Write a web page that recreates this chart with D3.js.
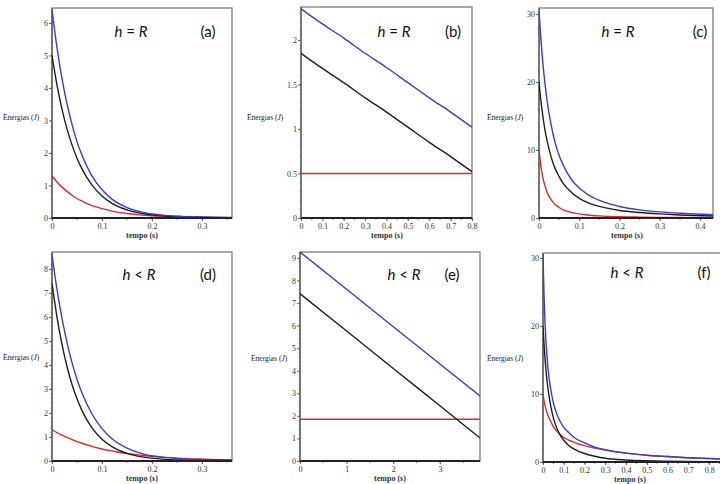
<!DOCTYPE html>
<html><head><meta charset="utf-8">
<script src="https://cdn.jsdelivr.net/npm/d3@7"></script>
<style>body{margin:0;background:#fff}svg{display:block}</style>
</head><body>
<svg id="chart" width="720" height="484"></svg>
<script>
// ---------- data ----------
const panelIds = ["a", "b", "c", "d", "e", "f"];
const titles = ["h = R", "h = R", "h = R", "h < R", "h < R", "h < R"];

// (a) h = R
const tA     = [0, 0.01, 0.02, 0.03, 0.04, 0.05, 0.06, 0.08, 0.10, 0.12, 0.15, 0.18, 0.22, 0.26, 0.30, 0.36];
const blueA  = [6.4, 5.24, 4.29, 3.51, 2.88, 2.35, 1.93, 1.29, 0.87, 0.58, 0.32, 0.18, 0.09, 0.05, 0.03, 0.02];
const blackA = [5.0, 4.09, 3.35, 2.74, 2.25, 1.84, 1.51, 1.01, 0.68, 0.45, 0.25, 0.14, 0.07, 0.04, 0.02, 0.01];
const redA   = [1.3, 1.11, 0.95, 0.82, 0.70, 0.60, 0.52, 0.38, 0.29, 0.21, 0.14, 0.09, 0.05, 0.03, 0.02, 0.01];

// (b) h = R
const tB     = [0, 0.1, 0.2, 0.3, 0.4, 0.5, 0.6, 0.7, 0.8];
const blueB  = [2.35, 2.18, 2.02, 1.85, 1.69, 1.52, 1.35, 1.19, 1.02];
const blackB = [1.85, 1.68, 1.52, 1.35, 1.19, 1.02, 0.85, 0.69, 0.52];
const redB   = [0.5, 0.5, 0.5, 0.5, 0.5, 0.5, 0.5, 0.5, 0.5];

// (c) h = R
const tC     = [0, 0.005, 0.01, 0.015, 0.02, 0.03, 0.04, 0.05, 0.06, 0.08, 0.10, 0.12, 0.15, 0.20, 0.25, 0.30, 0.35, 0.432];
const blueC  = [30.5, 26.1, 22.5, 19.7, 17.3, 13.7, 11.1, 9.2, 7.8, 5.7, 4.4, 3.5, 2.6, 1.7, 1.2, 0.9, 0.7, 0.5];
const blackC = [20.0, 17.1, 14.8, 12.9, 11.4, 9.0, 7.3, 6.1, 5.1, 3.8, 2.9, 2.3, 1.7, 1.1, 0.8, 0.6, 0.45, 0.3];
const redC   = [10.0, 7.5, 5.8, 4.7, 3.8, 2.7, 2.0, 1.55, 1.2, 0.83, 0.6, 0.45, 0.31, 0.19, 0.13, 0.09, 0.07, 0.05];

// (d) h < R
const tD     = [0, 0.01, 0.02, 0.03, 0.04, 0.05, 0.06, 0.08, 0.10, 0.12, 0.15, 0.18, 0.22, 0.26, 0.30, 0.36];
const blueD  = [8.6, 7.15, 5.94, 4.94, 4.10, 3.41, 2.83, 1.96, 1.35, 0.93, 0.54, 0.31, 0.16, 0.09, 0.06, 0.04];
const blackD = [7.4, 6.00, 4.86, 3.94, 3.19, 2.59, 2.10, 1.38, 0.91, 0.60, 0.32, 0.17, 0.08, 0.04, 0.02, 0.01];
const redD   = [1.3, 1.18, 1.08, 0.98, 0.89, 0.81, 0.74, 0.61, 0.50, 0.42, 0.31, 0.24, 0.16, 0.11, 0.08, 0.04];

// (e) h < R
const tE     = [0, 1, 2, 3, 3.86];
const blueE  = [9.26, 7.61, 5.95, 4.30, 2.88];
const blackE = [7.41, 5.76, 4.10, 2.45, 1.02];
const redE   = [1.85, 1.85, 1.85, 1.85, 1.85];

// (f) h < R
const tF     = [0, 0.005, 0.01, 0.02, 0.03, 0.04, 0.05, 0.06, 0.08, 0.10, 0.125, 0.15, 0.20, 0.25, 0.30, 0.40, 0.50, 0.60, 0.70, 0.855];
const blueF  = [30.5, 24.4, 20.3, 15.2, 12.2, 10.2, 8.7, 7.6, 6.1, 5.1, 4.3, 3.6, 2.8, 2.2, 1.8, 1.3, 1.0, 0.8, 0.62, 0.45];
const blackF = [20.0, 17.3, 15.1, 11.8, 9.5, 7.8, 6.5, 5.5, 4.1, 3.2, 2.4, 1.9, 1.25, 0.85, 0.55, 0.3, 0.18, 0.12, 0.08, 0.05];
const redF   = [10.0, 9.0, 8.3, 7.2, 6.4, 5.8, 5.2, 4.8, 4.1, 3.6, 3.2, 2.9, 2.4, 2.05, 1.75, 1.3, 1.0, 0.8, 0.6, 0.43];

// tick labels
const xTicksA = [0, 0.1, 0.2, 0.3];
const xTicksB = [0, 0.1, 0.2, 0.3, 0.4, 0.5, 0.6, 0.7, 0.8];
const xTicksC = [0, 0.1, 0.2, 0.3, 0.4];
const xTicksD = [0, 0.1, 0.2, 0.3];
const xTicksE = [0, 1, 2, 3];
const xTicksF = [0, 0.1, 0.2, 0.3, 0.4, 0.5, 0.6, 0.7, 0.8];
const yTicksA = [0, 1, 2, 3, 4, 5, 6];
const yTicksB = [0, 0.5, 1, 1.5, 2];
const yTicksC = [0, 10, 20, 30];
const yTicksD = [0, 1, 2, 3, 4, 5, 6, 7, 8];
const yTicksE = [0, 1, 2, 3, 4, 5, 6, 7, 8, 9];
const yTicksF = [0, 10, 20, 30];

// ---------- layout ----------
const layout = {
  a: {l: 52,  r: 232, t: 8,   b: 218, xMax: 0.36,  yMax: 6.46, xMinor: 0.05, yMinor: 0.2, lblY: 117, lblX: 3,   tx: 131, ax: 208, ty: 37,  xl: 142},
  b: {l: 301, r: 472, t: 7,   b: 218, xMax: 0.8,   yMax: 2.37, xMinor: 0.05, yMinor: 0.1, lblY: 117, lblX: 247, tx: 394, ax: 453, ty: 37,  xl: 387},
  c: {l: 539, r: 713, t: 8,   b: 218, xMax: 0.432, yMax: 30.9, xMinor: 0.05, yMinor: 2,   lblY: 117, lblX: 487, tx: 618, ax: 700, ty: 37,  xl: 627},
  d: {l: 52,  r: 232, t: 252, b: 461, xMax: 0.36,  yMax: 8.71, xMinor: 0.05, yMinor: 0.2, lblY: 357, lblX: 3,   tx: 139, ax: 208, ty: 280, xl: 142},
  e: {l: 300, r: 480, t: 252, b: 461, xMax: 3.86,  yMax: 9.26, xMinor: 0.5,  yMinor: 0.2, lblY: 358, lblX: 251, tx: 404, ax: 452, ty: 280, xl: 390},
  f: {l: 543, r: 722, t: 253, b: 462, xMax: 0.862, yMax: 30.74, xMinor: 0.05, yMinor: 2,  lblY: 358, lblX: 487, tx: 627, ax: 704, ty: 278, xl: 630}
};

const data = {
  a: {t: tA, blue: blueA, black: blackA, red: redA, xt: xTicksA, yt: yTicksA},
  b: {t: tB, blue: blueB, black: blackB, red: redB, xt: xTicksB, yt: yTicksB},
  c: {t: tC, blue: blueC, black: blackC, red: redC, xt: xTicksC, yt: yTicksC},
  d: {t: tD, blue: blueD, black: blackD, red: redD, xt: xTicksD, yt: yTicksD},
  e: {t: tE, blue: blueE, black: blackE, red: redE, xt: xTicksE, yt: yTicksE},
  f: {t: tF, blue: blueF, black: blackF, red: redF, xt: xTicksF, yt: yTicksF}
};

const colors = {blue: "#3a3ad0", black: "#1e1e1e", red: "#e02828"};
const serif = "'Liberation Serif', 'DejaVu Serif', serif";
const sans = "Lato, 'Open Sans', sans-serif";

const svg = d3.select("#chart");

panelIds.forEach((id, i) => {
  const L = layout[id], D = data[id];
  const x = d3.scaleLinear().domain([0, L.xMax]).range([L.l, L.r]);
  const y = d3.scaleLinear().domain([0, L.yMax]).range([L.b, L.t]);
  const g = svg.append("g");

  g.append("clipPath").attr("id", "clip-" + id)
    .append("rect").attr("x", L.l).attr("y", L.t - 1).attr("width", L.r - L.l).attr("height", L.b - L.t + 2);

  // frame
  g.append("rect").attr("x", L.l).attr("y", L.t).attr("width", L.r - L.l).attr("height", L.b - L.t)
    .attr("fill", "none").attr("stroke", "#7a7a7a").attr("stroke-width", 1.3);

  // minor ticks
  const xMin = d3.range(0, L.xMax + 1e-9, L.xMinor);
  g.selectAll(".xm").data(xMin).enter().append("line")
    .attr("x1", d => x(d)).attr("x2", d => x(d)).attr("y1", L.b).attr("y2", L.b + 2)
    .attr("stroke", "#555").attr("stroke-width", 0.7);
  const yMin = d3.range(0, L.yMax + 1e-9, L.yMinor);
  g.selectAll(".ym").data(yMin).enter().append("line")
    .attr("x1", L.l - 1.5).attr("x2", L.l).attr("y1", d => y(d)).attr("y2", d => y(d))
    .attr("stroke", "#777").attr("stroke-width", 0.6);

  // axes
  const xAxis = d3.axisBottom(x).tickValues(D.xt).tickSize(3).tickPadding(2).tickFormat(d3.format("~g"));
  const yAxis = d3.axisLeft(y).tickValues(D.yt).tickSize(3).tickPadding(1).tickFormat(d3.format("~g"));
  const gx = g.append("g").attr("transform", `translate(0,${L.b})`).call(xAxis);
  const gy = g.append("g").attr("transform", `translate(${L.l},0)`).call(yAxis);
  [gx, gy].forEach(ax => {
    ax.select(".domain").remove();
    ax.selectAll("line").attr("stroke", "#444").attr("stroke-width", 0.8);
    ax.selectAll("text").attr("font-family", serif).attr("font-size", 8).attr("fill", "#333");
  });

  // left axis line
  g.append("line").attr("x1", L.l).attr("x2", L.l).attr("y1", L.t).attr("y2", L.b)
    .attr("stroke", "#555").attr("stroke-width", 1.2);

  // series
  const line = d3.line().x((d, k) => x(D.t[k])).y(d => y(d)).curve(d3.curveMonotoneX);
  const lines = g.append("g").attr("clip-path", `url(#clip-${id})`);
  ["red", "black", "blue"].forEach(s => {
    lines.append("path").datum(D[s]).attr("d", line)
      .attr("fill", "none").attr("stroke", colors[s]).attr("stroke-width", 1.4);
  });

  // thick zero line along bottom
  g.append("line").attr("x1", L.l).attr("x2", Math.min(L.r, 720)).attr("y1", L.b).attr("y2", L.b)
    .attr("stroke", "#222").attr("stroke-width", 2.2);

  // y label
  const yl = g.append("text").attr("x", L.lblX).attr("y", L.lblY + 3)
    .attr("font-family", serif).attr("font-size", 7.5).attr("fill", "#222");
  yl.append("tspan").text("Energias (");
  yl.append("tspan").attr("font-style", "italic").text("J");
  yl.append("tspan").text(")");

  // x label
  g.append("text").attr("x", L.xl).attr("y", L.b + 20).attr("text-anchor", "middle")
    .attr("font-family", serif).attr("font-size", 8).attr("font-weight", "bold").attr("fill", "#333")
    .text("tempo (s)");

  // title
  const parts = titles[i].split(" ");
  const tt = g.append("text").attr("x", L.tx).attr("y", L.ty).attr("text-anchor", "middle")
    .attr("font-family", sans).attr("font-size", 15).attr("fill", "#111");
  tt.append("tspan").attr("font-style", "italic").text(parts[0]);
  tt.append("tspan").text(" " + parts[1] + " ");
  tt.append("tspan").attr("font-style", "italic").text(parts[2]);

  g.append("text").attr("x", L.ax).attr("y", L.ty).attr("text-anchor", "middle")
    .attr("font-family", sans).attr("font-size", 15).attr("fill", "#111").text("(" + id + ")");
});
</script>
</body></html>
